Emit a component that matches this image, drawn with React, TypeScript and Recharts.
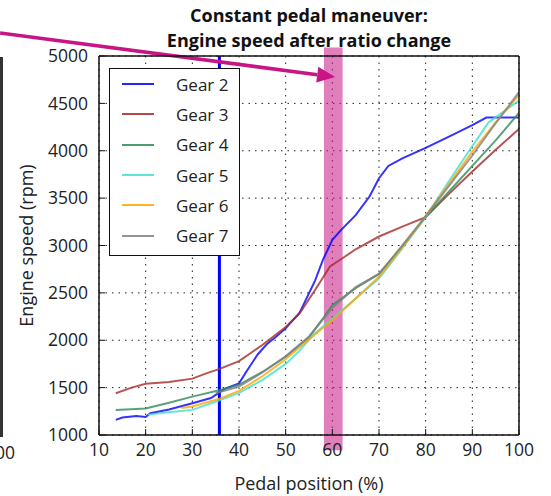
import React from 'react';
import {
  LineChart,
  Line,
  XAxis,
  YAxis,
  CartesianGrid,
  ReferenceLine,
  ReferenceArea,
  Legend,
} from 'recharts';

const xTicks = [10, 20, 30, 40, 50, 60, 70, 80, 90, 100];
const yTicks = [1000, 1500, 2000, 2500, 3000, 3500, 4000, 4500, 5000];

const gear2X = [13.6, 15, 18, 20, 21, 25, 30, 34, 37, 40, 41.6, 44, 46, 48, 50, 53, 56.3, 58, 60, 62, 65, 68, 70, 72, 75, 80, 85, 90, 93, 100];
const gear2Y = [1160, 1185, 1200, 1190, 1230, 1270, 1335, 1390, 1490, 1545, 1670, 1850, 1960, 2040, 2125, 2290, 2630, 2850, 3060, 3170, 3320, 3520, 3710, 3840, 3920, 4030, 4150, 4270, 4350, 4350];

const gear3X = [13.6, 17, 20, 25, 30, 33, 36, 40, 45, 50, 53, 56.3, 59.5, 62, 65, 70, 75, 80, 85, 90, 95, 100];
const gear3Y = [1440, 1500, 1540, 1560, 1595, 1650, 1700, 1780, 1950, 2140, 2285, 2530, 2780, 2860, 2960, 3095, 3200, 3300, 3545, 3780, 4010, 4230];

const gear4X = [13.6, 20, 25, 30, 36, 40, 45, 50, 55, 58, 60, 65, 70, 75, 80, 85, 90, 95, 100];
const gear4Y = [1265, 1280, 1340, 1405, 1475, 1530, 1665, 1826, 2030, 2230, 2370, 2550, 2700, 2990, 3300, 3570, 3840, 4110, 4400];

const gear5X = [20.5, 25, 30, 36, 40, 45, 50, 53, 56, 60, 65, 70, 75, 80, 85, 90, 93.5, 100];
const gear5Y = [1215, 1240, 1265, 1370, 1445, 1580, 1750, 1890, 2060, 2230, 2440, 2650, 2970, 3300, 3680, 4050, 4300, 4530];

const gear6X = [27.7, 30, 36, 40, 45, 50, 55, 60, 65, 70, 75, 80, 85, 90, 95, 100];
const gear6Y = [1285, 1300, 1385, 1465, 1620, 1800, 2010, 2210, 2440, 2670, 2980, 3310, 3650, 3990, 4300, 4590];

const gear7X = [35, 40, 45, 50, 55, 58, 60, 65, 70, 75, 80, 85, 90, 95, 100];
const gear7Y = [1440, 1510, 1660, 1830, 2040, 2220, 2340, 2560, 2700, 3000, 3310, 3630, 3950, 4290, 4620];

// pedal marker, highlighted band and arrow (data units)
const pedalMarker = 35.8;
const bandX = [58.2, 62.2];
const bandY = [840, 5090];
const arrowFrom = { x: -11.2, y: 5243 };
const arrowTo = { x: 60.6, y: 4778 };

const titleLines = ['Constant pedal maneuver:', 'Engine speed after ratio change'];

const series = [
  { name: 'Gear 2', color: '#0000ff', xs: gear2X, ys: gear2Y },
  { name: 'Gear 3', color: '#a52a2a', xs: gear3X, ys: gear3Y },
  { name: 'Gear 4', color: '#2e8b57', xs: gear4X, ys: gear4Y },
  { name: 'Gear 5', color: '#40e0d0', xs: gear5X, ys: gear5Y },
  { name: 'Gear 6', color: '#ffa500', xs: gear6X, ys: gear6Y },
  { name: 'Gear 7', color: '#808080', xs: gear7X, ys: gear7Y },
];

const FONT = '"Open Sans", "DejaVu Sans", sans-serif';
const MAGENTA = '#c71585';

function toPoints(xs: number[], ys: number[]) {
  return xs.map((x, i) => ({ x, y: ys[i] }));
}

// eslint-disable-next-line @typescript-eslint/no-explicit-any
function ArrowShape(props: any) {
  const { x1, y1, x2, y2 } = props;
  const ang = Math.atan2(y2 - y1, x2 - x1);
  const len = 18;
  const half = 8;
  const bx = x2 - len * Math.cos(ang);
  const by = y2 - len * Math.sin(ang);
  const nx = -Math.sin(ang) * half;
  const ny = Math.cos(ang) * half;
  return (
    <g>
      <line x1={x1} y1={y1} x2={bx} y2={by} stroke={MAGENTA} strokeWidth={3.5} />
      <polygon
        points={`${x2},${y2} ${bx + nx},${by + ny} ${bx - nx},${by - ny}`}
        fill={MAGENTA}
      />
    </g>
  );
}

function LegendBox() {
  return (
    <div
      style={{
        width: 131,
        height: 188,
        boxSizing: 'border-box',
        border: '1.5px solid #111',
        background: '#fff',
        fontFamily: FONT,
        fontSize: 17,
        color: '#222',
      }}
    >
      {series.map((s) => (
        <div key={s.name} style={{ display: 'flex', alignItems: 'center', height: 30.3 }}>
          <span
            style={{
              display: 'inline-block',
              width: 32,
              borderTop: `2.5px solid ${s.color}`,
              opacity: 0.85,
              marginLeft: 12,
              marginRight: 22,
            }}
          />
          <span>{s.name}</span>
        </div>
      ))}
    </div>
  );
}

const tickStyle = { fontSize: 17.5, fill: '#222', fontFamily: FONT };

export default function App() {
  return (
    <div style={{ position: 'absolute', left: 0, top: 0, width: 551, height: 496, background: '#fff', overflow: 'hidden', fontFamily: FONT }}>
      {titleLines.map((t, i) => (
        <div
          key={t}
          style={{ position: 'absolute', left: 0, top: 3 + i * 24.5, width: 618, height: 24.5, textAlign: 'center', fontWeight: 700, fontSize: 18, lineHeight: '24.5px', color: '#111' }}
        >
          {t}
        </div>
      ))}
      <div style={{ position: 'absolute', left: 0, top: 57, width: 2.5, height: 380, background: '#333' }} />
      <div style={{ position: 'absolute', right: 536, top: 440, fontSize: 17.5, color: '#222' }}>100</div>

      <LineChart
        width={551}
        height={496}
        margin={{ top: 55, right: 31, bottom: 0, left: 0 }}
        style={{ position: 'absolute', left: 0, top: 0 }}
      >
        <CartesianGrid stroke="#222" strokeDasharray="1.5 5" vertical horizontal />
        <XAxis
          dataKey="x"
          type="number"
          domain={[10, 100]}
          ticks={xTicks}
          allowDataOverflow
          height={61}
          tick={tickStyle}
          tickSize={-6}
          tickMargin={15}
          tickLine={{ stroke: '#111' }}
          axisLine={{ stroke: '#111', strokeWidth: 1.5 }}
          label={{ value: 'Pedal position (%)', position: 'insideBottom', offset: 6, fontSize: 18, fill: '#222', fontFamily: FONT }}
        />
        <XAxis
          xAxisId="top"
          orientation="top"
          type="number"
          domain={[10, 100]}
          ticks={xTicks}
          allowDataOverflow
          height={1}
          tick={false}
          tickSize={-6}
          tickLine={{ stroke: '#111' }}
          axisLine={{ stroke: '#111', strokeWidth: 1.5 }}
        />
        <YAxis
          type="number"
          domain={[1000, 5000]}
          ticks={yTicks}
          allowDataOverflow
          width={99}
          tick={tickStyle}
          tickSize={-6}
          tickMargin={17}
          tickLine={{ stroke: '#111' }}
          axisLine={{ stroke: '#111', strokeWidth: 1.5 }}
          label={{ value: 'Engine speed (rpm)', angle: -90, position: 'insideLeft', offset: 27, fontSize: 18, fill: '#222', fontFamily: FONT, style: { textAnchor: 'middle' } }}
        />
        <YAxis
          yAxisId="right"
          orientation="right"
          type="number"
          domain={[1000, 5000]}
          ticks={yTicks}
          allowDataOverflow
          width={1}
          tick={false}
          tickSize={-6}
          tickLine={{ stroke: '#111' }}
          axisLine={{ stroke: '#111', strokeWidth: 1.5 }}
        />
        <ReferenceLine x={pedalMarker} stroke="#0000ff" strokeWidth={3} />
        {series.map((s) => (
          <Line
            key={s.name}
            data={toPoints(s.xs, s.ys)}
            dataKey="y"
            name={s.name}
            type="linear"
            stroke={s.color}
            strokeOpacity={0.8}
            strokeWidth={2}
            dot={false}
            activeDot={false}
            isAnimationActive={false}
          />
        ))}
        <ReferenceArea
          x1={bandX[0]}
          x2={bandX[1]}
          y1={bandY[0]}
          y2={bandY[1]}
          ifOverflow="visible"
          fill={MAGENTA}
          fillOpacity={0.55}
          stroke="none"
        />
        <ReferenceLine
          segment={[arrowFrom, arrowTo]}
          ifOverflow="visible"
          shape={ArrowShape}
        />
        <Legend
          layout="horizontal"
          verticalAlign="middle"
          align="center"
          content={() => <LegendBox />}
          wrapperStyle={{ position: 'absolute', left: 109, top: 68, width: 131, height: 188 }}
        />
      </LineChart>
    </div>
  );
}
